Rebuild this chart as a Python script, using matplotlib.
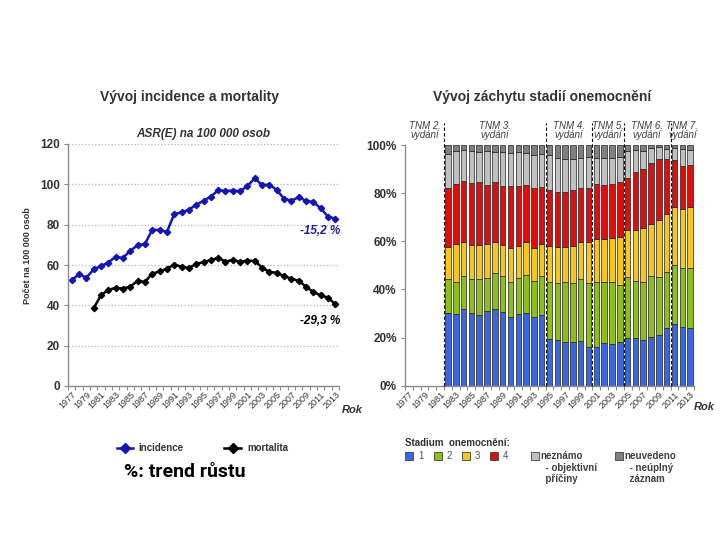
import matplotlib
matplotlib.use("Agg")
import matplotlib.pyplot as plt
import numpy as np
from matplotlib.lines import Line2D
from matplotlib.patches import Rectangle

plt.rcParams['font.family'] = ['Liberation Sans', 'DejaVu Sans']

# Vývoj incidence a mortality (ASR(E) na 100 000 osob)
years = list(range(1977, 2014))
incidence = [52.4, 55.5, 53.7, 57.8, 59.5, 61.2, 64.1, 63.5, 67.1, 69.8,
             70.4, 77.4, 77.4, 76.4, 85.2, 86.1, 87.4, 89.9, 91.8, 93.9,
             97.1, 96.7, 96.9, 96.6, 99.2, 103.0, 99.6, 99.9, 97.2, 92.9,
             91.9, 93.6, 91.8, 91.3, 88.1, 84.0, 83.0]
mort_years = list(range(1980, 2014))
mortality = [38.5, 45.0, 47.6, 48.7, 48.3, 49.3, 52.1, 51.6, 55.7, 56.8,
             58.2, 60.2, 59.2, 58.5, 60.5, 61.5, 62.4, 63.5, 61.7, 62.5,
             61.5, 62.2, 62.0, 58.7, 56.5, 56.2, 54.5, 53.2, 52.2, 49.2,
             46.6, 45.0, 43.8, 40.5]
trend_inc = "-15,2 %"
trend_mort = "-29,3 %"

# Vývoj záchytu stadií (%)
stage_years = list(range(1982, 2014))
stage1 = [30.0, 29.8, 31.7, 30.0, 29.4, 31.0, 31.7, 30.8, 28.7, 29.6, 30.0, 28.4, 29.4,
          19.3, 19.0, 18.3, 18.0, 18.5, 16.0, 16.2, 17.9, 17.4, 18.0,
          19.7, 19.9, 19.0, 20.4, 21.1, 23.8, 25.6, 24.2, 23.8]
stage2 = [14.2, 13.4, 14.0, 14.2, 14.8, 13.9, 15.0, 14.8, 14.5, 15.0, 16.0, 15.2, 16.2,
          23.6, 23.5, 24.6, 24.5, 25.7, 26.5, 26.7, 25.0, 25.5, 23.8,
          25.3, 23.7, 24.2, 25.3, 23.9, 23.6, 24.4, 24.6, 25.0]
stage3 = [13.6, 15.5, 13.9, 14.3, 14.3, 14.0, 12.9, 12.9, 14.2, 13.4, 13.6, 13.8, 13.3,
          15.3, 15.1, 14.9, 15.4, 15.4, 17.0, 18.0, 18.0, 18.6, 20.1,
          19.7, 21.1, 22.2, 21.5, 23.8, 23.8, 24.1, 24.8, 25.3]
stage4 = [24.5, 25.3, 25.4, 25.8, 26.2, 24.5, 25.1, 24.6, 25.6, 25.1, 23.8, 24.9, 23.5,
          23.1, 22.9, 22.5, 23.5, 22.5, 22.6, 22.9, 22.6, 22.3, 22.9,
          21.5, 24.0, 24.6, 25.2, 25.3, 23.1, 19.7, 17.7, 17.6]
unknown = [13.8, 13.5, 12.8, 13.2, 12.4, 14.0, 12.5, 14.0, 13.8, 13.9, 13.4, 13.7, 13.7,
           14.6, 14.0, 14.0, 12.9, 12.4, 12.8, 10.8, 11.2, 10.7, 10.4,
           11.5, 9.1, 7.7, 6.4, 4.9, 4.0, 5.0, 6.9, 6.4]
not_stated = [3.9, 2.5, 2.2, 2.5, 2.9, 2.6, 2.8, 2.9, 3.2, 3.0, 3.2, 4.0, 3.9,
              4.1, 5.5, 5.7, 5.7, 5.5, 5.1, 5.4, 5.3, 5.5, 4.8,
              2.3, 2.2, 2.3, 1.2, 1.0, 1.7, 1.2, 1.8, 1.9]
stage_names = ["1", "2", "3", "4"]
stage_colors = ["#3a66e0", "#8cbf1a", "#f7c51c", "#e00d0d", "#c0c0c0", "#808080"]

# TNM vydání (první rok platnosti)
tnm_start = [1977, 1982, 1995, 2001, 2005, 2011]
tnm_labels = ["TNM 2.\nvydání", "TNM 3.\nvydání", "TNM 4.\nvydání",
              "TNM 5.\nvydání", "TNM 6.\nvydání", "TNM 7.\nvydání"]

txt = "#333333"
axc = "#8c8c8c"

fig = plt.figure(figsize=(7.2, 5.4), dpi=100)


def style_axes(ax):
    for s in ["top", "right"]:
        ax.spines[s].set_visible(False)
    for s in ["left", "bottom"]:
        ax.spines[s].set_color(axc)
        ax.spines[s].set_linewidth(1.0)
    ax.set_xlim(years[0] - 0.5, years[-1] + 0.5)
    ax.set_xticks(years[::2])
    ax.set_xticklabels([str(y) for y in years[::2]], rotation=45, ha="right",
                       va="top", rotation_mode="anchor", fontsize=6.5, color=txt)
    ax.set_xticks(np.arange(years[0] - 0.5, years[-1] + 1), minor=True)
    ax.tick_params(axis="x", which="major", length=0, pad=3)
    ax.tick_params(axis="x", which="minor", length=3, color=axc, width=0.8)
    ax.tick_params(axis="y", length=3, color=axc, width=0.8, pad=3)
    for lab in ax.get_yticklabels():
        lab.set_fontweight("bold")
        lab.set_fontsize(8.5)
        lab.set_color(txt)


# levý graf
ax1 = fig.add_axes([68 / 720, 1 - 386 / 540, 271 / 720, 242 / 540])
ax1.set_ylim(0, 120)
ax1.set_yticks(range(0, 121, 20))
ax1.grid(axis="y", linestyle=":", color="#b5b5b5", linewidth=0.9)
ax1.set_axisbelow(True)
ax1.plot(years, incidence, color="#1414b4", lw=1.8, marker="D", ms=3.2, clip_on=False)
ax1.plot(mort_years, mortality, color="black", lw=1.8, marker="D", ms=3.2, clip_on=False)
style_axes(ax1)
ax1.text(2013.7, 80, trend_inc, color="#1e1ea0", fontsize=8.5, fontweight="bold",
         style="italic", ha="right", va="top")
ax1.text(2013.7, 35, trend_mort, color="black", fontsize=8.5, fontweight="bold",
         style="italic", ha="right", va="top")
ax1.text(1.01, -0.10, "Rok", transform=ax1.transAxes, fontsize=8, fontweight="bold",
         style="italic", color=txt, ha="left", va="center")
ax1.set_title("ASR(E) na 100 000 osob", fontsize=8.5, fontweight="bold", style="italic",
              color=txt, pad=5)
fig.text(28 / 720, 1 - 256 / 540, "Počet na 100 000 osob", rotation=90, fontsize=6.5,
         fontweight="bold", color=txt, ha="center", va="center")

# pravý graf
ax2 = fig.add_axes([405 / 720, 1 - 385.7 / 540, 289 / 720, 240.7 / 540])
ax2.set_ylim(0, 100)
ax2.set_yticks(range(0, 101, 20))
ax2.set_yticklabels([f"{v}%" for v in range(0, 101, 20)])
series = [stage1, stage2, stage3, stage4, unknown, not_stated]
bottom = np.zeros(len(stage_years))
for vals, col in zip(series, stage_colors):
    ax2.bar(stage_years, vals, bottom=bottom, width=0.7, color=col,
            edgecolor="#202020", linewidth=0.5, zorder=2)
    bottom += np.array(vals)
style_axes(ax2)
for yr in tnm_start[1:]:
    ax2.plot([yr - 0.5, yr - 0.5], [0, 109], color="black", ls=(0, (3, 2)), lw=0.8,
             clip_on=False, zorder=3)
edges = tnm_start + [years[-1] + 1]
for i, lab in enumerate(tnm_labels):
    cx = (edges[i] + edges[i + 1]) / 2 - 0.5
    ax2.text(cx, 106, lab, ha="center", va="center", fontsize=7, style="italic",
             color="#404040", linespacing=0.95, clip_on=False)
ax2.text(1.0, -0.09, "Rok", transform=ax2.transAxes, fontsize=8, fontweight="bold",
         style="italic", color=txt, ha="left", va="center")

# nadpisy
fig.text(190 / 720, 1 - 97 / 540, "Vývoj incidence a mortality", fontsize=10,
         fontweight="bold", color=txt, ha="center", va="center")
fig.text(542 / 720, 1 - 97 / 540, "Vývoj záchytu stadií onemocnění", fontsize=10,
         fontweight="bold", color=txt, ha="center", va="center")

# legenda vlevo
ly = 1 - 448 / 540
fig.add_artist(Line2D([117 / 720, 133 / 720], [ly, ly], color="#1414b4", lw=1.8,
                      transform=fig.transFigure))
fig.add_artist(Line2D([125 / 720], [ly], color="#1414b4", marker="D", ms=5,
                      transform=fig.transFigure))
fig.text(138 / 720, ly, "incidence", fontsize=7, fontweight="bold", color=txt, va="center")
fig.add_artist(Line2D([224 / 720, 241 / 720], [ly, ly], color="black", lw=1.8,
                      transform=fig.transFigure))
fig.add_artist(Line2D([232.5 / 720], [ly], color="black", marker="D", ms=5,
                      transform=fig.transFigure))
fig.text(247 / 720, ly, "mortalita", fontsize=7, fontweight="bold", color=txt, va="center")
fig.text(185 / 720, 1 - 472 / 540, "%: trend r\u016fstu", fontsize=14, fontweight="bold",
         color="black", ha="center", va="center", family=["Roboto", "DejaVu Sans"])

# legenda vpravo
fig.text(405 / 720, 1 - 443 / 540, "Stadium  onemocnění:", fontsize=7, fontweight="bold",
         color=txt, va="center")
sq_w, sq_h = 8 / 720, 8 / 540
sy = 1 - 456 / 540
sq_x = [405, 434, 462, 490]
for x0, name, col in zip(sq_x, stage_names, stage_colors[:4]):
    fig.add_artist(Rectangle((x0 / 720, sy - sq_h / 2), sq_w, sq_h, facecolor=col,
                             edgecolor="#404040", lw=0.6, transform=fig.transFigure))
    fig.text((x0 + 13) / 720, sy, name, fontsize=7, color="#505050", va="center")
extra = [(531, stage_colors[4], "neznámo\n  - objektivní\n  příčiny"),
         (615, stage_colors[5], "neuvedeno\n  - neúplný\n  záznam")]
for x0, col, lab in extra:
    fig.add_artist(Rectangle((x0 / 720, sy - sq_h / 2), sq_w, sq_h, facecolor=col,
                             edgecolor="#404040", lw=0.6, transform=fig.transFigure))
    fig.text((x0 + 9) / 720, sy + 5 / 540, lab, fontsize=7, fontweight="bold",
             color="#404040", va="top", linespacing=1.2)

fig.savefig("out.png", dpi=100)
